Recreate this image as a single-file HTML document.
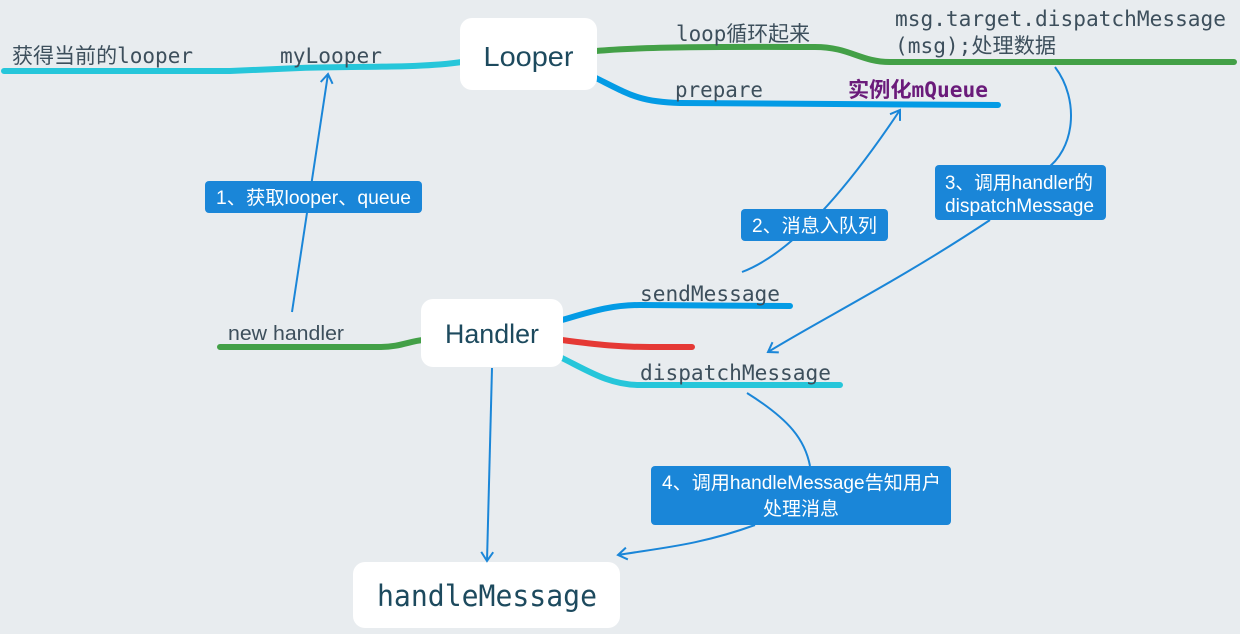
<!DOCTYPE html>
<html><head><meta charset="utf-8"><style>
html,body{margin:0;padding:0;background:#e8ecef;}
svg{display:block}
.m{font-family:"DejaVu Sans Mono","Liberation Mono","Noto Sans CJK SC",monospace;fill:#3d4f5c}
.s{font-family:"Liberation Sans","Noto Sans CJK SC",sans-serif}
.w{fill:#fff;font-size:19px}
</style></head><body>
<svg width="1240" height="634" viewBox="0 0 1240 634" xmlns="http://www.w3.org/2000/svg">
<defs>
<marker id="a" markerWidth="14" markerHeight="14" refX="10" refY="7" orient="auto" markerUnits="userSpaceOnUse">
<path d="M1,1 L10,7 L1,13" fill="none" stroke="#1a86d8" stroke-width="2"/>
</marker>
</defs>
<rect width="1240" height="634" fill="#e8ecef"/>
<g fill="none" stroke-linecap="round">
<path d="M4,71 L230,71 L300,68 C370,66 420,68 462,62" stroke="#26c6da" stroke-width="6"/>
<path d="M596,51 C650,46 760,47 815,47 C850,47 860,62 890,62 L1234,62" stroke="#43a047" stroke-width="6"/>
<path d="M596,78 C630,95 640,102 680,103 L998,105" stroke="#039be5" stroke-width="6"/>
<path d="M220,347 L380,347 C400,347 410,341 423,340" stroke="#43a047" stroke-width="6"/>
<path d="M562,320 C590,312 610,305 640,305 L790,306" stroke="#039be5" stroke-width="6"/>
<path d="M562,340 C600,345 620,347 650,347 L692,347" stroke="#e53935" stroke-width="6"/>
<path d="M562,358 C590,372 610,385 640,385 L840,385" stroke="#26c6da" stroke-width="6"/>
</g>
<rect x="460" y="18" width="137" height="72" rx="12" fill="#fff"/>
<text x="528.5" y="66" text-anchor="middle" class="s" font-size="28" fill="#1d4a5e" textLength="90" lengthAdjust="spacingAndGlyphs">Looper</text>
<rect x="421" y="299" width="142" height="68" rx="12" fill="#fff"/>
<text x="492" y="343" text-anchor="middle" class="s" font-size="27" fill="#1d4a5e" textLength="94" lengthAdjust="spacingAndGlyphs">Handler</text>
<rect x="353" y="562" width="267" height="66" rx="12" fill="#fff"/>
<text x="377" y="606" class="m" font-size="29" style="fill:#1d4a5e" textLength="220" lengthAdjust="spacingAndGlyphs">handleMessage</text>
<text x="12" y="63" class="m" font-size="21" textLength="181" lengthAdjust="spacingAndGlyphs">获得当前的looper</text>
<text x="280" y="63" class="m" font-size="21" textLength="102" lengthAdjust="spacingAndGlyphs">myLooper</text>
<text x="676" y="41" class="m" font-size="21" textLength="134" lengthAdjust="spacingAndGlyphs">loop循环起来</text>
<text x="895" y="26" class="m" font-size="21" textLength="331" lengthAdjust="spacingAndGlyphs">msg.target.dispatchMessage</text>
<text x="895" y="53" class="m" font-size="21" textLength="161" lengthAdjust="spacingAndGlyphs">(msg);处理数据</text>
<text x="675" y="97" class="m" font-size="21" textLength="88" lengthAdjust="spacingAndGlyphs">prepare</text>
<text x="848" y="97" class="m" font-size="21" font-weight="bold" style="fill:#6a1b7a" textLength="140" lengthAdjust="spacingAndGlyphs">实例化mQueue</text>
<text x="228" y="340" class="s" font-size="20" fill="#3d4f5c" textLength="116" lengthAdjust="spacingAndGlyphs">new handler</text>
<text x="640" y="301" class="m" font-size="21" textLength="140" lengthAdjust="spacingAndGlyphs">sendMessage</text>
<text x="640" y="380" class="m" font-size="21" textLength="191" lengthAdjust="spacingAndGlyphs">dispatchMessage</text>
<g fill="none" stroke="#1a86d8" stroke-width="2">
<path d="M292,312 L328,74" marker-end="url(#a)"/>
<path d="M742,272 C800,250 860,170 900,110" marker-end="url(#a)"/>
<path d="M1055,67 C1080,100 1075,150 1045,170"/>
<path d="M990,220 C900,280 820,320 768,352" marker-end="url(#a)"/>
<path d="M747,393 C790,420 805,440 810,466"/>
<path d="M755,525 C700,545 660,548 618,555" marker-end="url(#a)"/>
<path d="M492,368 L487,561" marker-end="url(#a)"/>
</g>
<rect x="205" y="181" width="217" height="32" rx="4" fill="#1a86d8"/>
<text x="216" y="204" class="s w" textLength="195" lengthAdjust="spacingAndGlyphs">1、获取looper、queue</text>
<rect x="741" y="209" width="147" height="32" rx="4" fill="#1a86d8"/>
<text x="752" y="232" class="s w" textLength="125" lengthAdjust="spacingAndGlyphs">2、消息入队列</text>
<rect x="935" y="165" width="171" height="55" rx="4" fill="#1a86d8"/>
<text x="945" y="189" class="s w" textLength="148" lengthAdjust="spacingAndGlyphs">3、调用handler的</text>
<text x="945" y="212" class="s w" textLength="149" lengthAdjust="spacingAndGlyphs">dispatchMessage</text>
<rect x="651" y="466" width="300" height="59" rx="4" fill="#1a86d8"/>
<text x="662" y="489" class="s w" textLength="279" lengthAdjust="spacingAndGlyphs">4、调用handleMessage告知用户</text>
<text x="801" y="515" text-anchor="middle" class="s w">处理消息</text>
</svg>
</body></html>
